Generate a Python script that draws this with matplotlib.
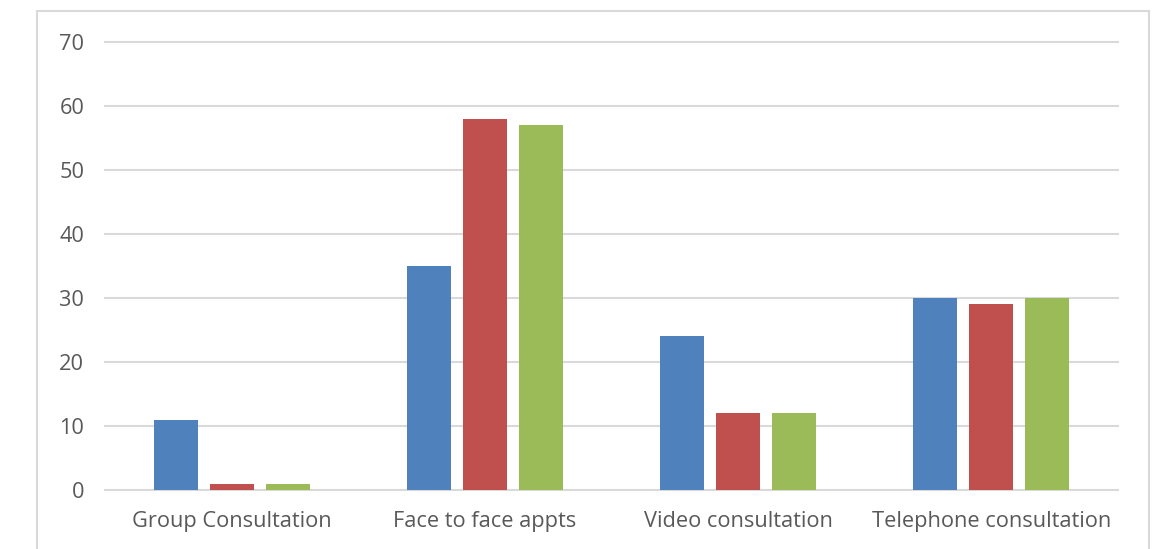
import numpy as np
import matplotlib.pyplot as plt
from matplotlib.patches import Rectangle

categories = ['Group Consultation', 'Face to face appts', 'Video consultation', 'Telephone consultation']
series1 = [11, 35, 24, 30]
series2 = [1, 58, 12, 29]
series3 = [1, 57, 12, 30]

colors = ['#4F81BD', '#C0504D', '#9BBB59']
txt = '#595959'

plt.rcParams['font.family'] = ['Open Sans', 'DejaVu Sans']

fig = plt.figure(figsize=(11.61, 5.49), dpi=100)
ax = fig.add_axes([105/1161, 59/549, (1118-105)/1161, (490-42)/549])

# chart border
fig.patches.append(Rectangle((37/1161, -0.1), (1149-37)/1161, 1.1 - 11/549,
                             transform=fig.transFigure, fill=False,
                             edgecolor='#d9d9d9', lw=1.5))

x = np.arange(len(categories))
w = 0.174
step = 0.221
for i, vals in enumerate([series1, series2, series3]):
    ax.bar(x + (i - 1) * step, vals, w, color=colors[i], zorder=3)

ax.set_xlim(-0.5, 3.5)
ax.set_ylim(0, 70)
ax.set_yticks(np.arange(0, 71, 10))
ax.grid(axis='y', color='#d9d9d9', lw=1.5, zorder=0)
for gl in ax.get_ygridlines():
    gl.set_clip_on(False)
ax.set_xticks(x)
ax.set_xticklabels(categories)
for s in ax.spines.values():
    s.set_visible(False)
ax.tick_params(length=0, colors=txt, labelsize=15.7)
ax.tick_params(axis='y', pad=15)
ax.tick_params(axis='x', pad=15)

fig.savefig('out.png', dpi=100)
